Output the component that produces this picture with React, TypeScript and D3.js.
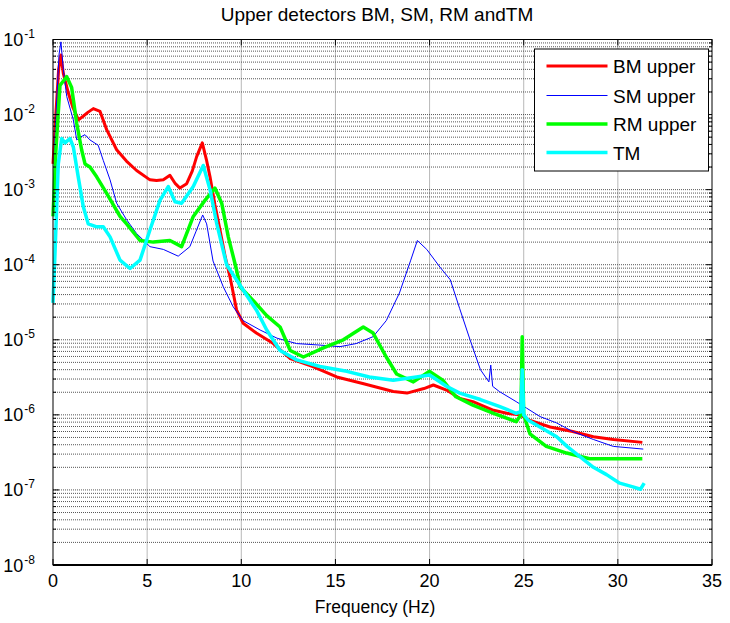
import React from "react";
import * as d3 from "d3";

const TITLE = "Upper detectors BM, SM, RM andTM";
const X_LABEL = "Frequency (Hz)";
const X_TICKS = [0, 5, 10, 15, 20, 25, 30, 35];
const Y_EXPONENTS = [-8, -7, -6, -5, -4, -3, -2, -1];
const SERIES_NAMES = ["BM upper", "SM upper", "RM upper", "TM"];

// [frequency Hz, PSD value]
const bmUpper: [number, number][] = [
  [0.0, 2.2e-3], [0.15, 1e-2], [0.3, 4e-2], [0.42, 6.2e-2], [0.55, 3.5e-2], [0.8, 2e-2],
  [1.05, 1.26e-2], [1.35, 8.5e-3], [1.6, 9.5e-3], [1.85, 1.07e-2], [2.14, 1.2e-2], [2.5, 1.1e-2],
  [2.85, 6.3e-3], [3.38, 3.4e-3], [3.9, 2.4e-3], [4.44, 1.8e-3], [5.15, 1.35e-3], [5.5, 1.32e-3],
  [5.86, 1.35e-3], [6.21, 1.55e-3], [6.5, 1.2e-3], [6.74, 1.05e-3], [7.1, 1.2e-3], [7.4, 1.78e-3],
  [7.63, 2.75e-3], [7.93, 4.2e-3], [8.15, 2.5e-3], [8.34, 1.48e-3], [8.6, 6.3e-4], [8.87, 2.9e-4],
  [9.15, 1.26e-4], [9.4, 6.9e-5], [9.75, 2.5e-5], [10.1, 1.66e-5], [10.8, 1.23e-5], [11.7, 8.9e-6],
  [12.6, 5.6e-6], [13.8, 4.4e-6], [15.07, 3.2e-6], [16.5, 2.6e-6], [18.07, 2.05e-6], [18.8, 1.95e-6],
  [19.7, 2.24e-6], [20.2, 2.5e-6], [20.9, 2.14e-6], [21.6, 1.66e-6], [22.3, 1.5e-6], [23.4, 1.15e-6],
  [24.1, 1.05e-6], [24.8, 1.0e-6], [25.3, 8.5e-7], [26.4, 6.9e-7], [27.6, 6.0e-7], [28.7, 5.1e-7],
  [29.76, 4.7e-7], [31.3, 4.3e-7],
];

const smUpper: [number, number][] = [
  [0.05, 2.5e-3], [0.2, 1.6e-2], [0.32, 6.3e-2], [0.42, 9.3e-2], [0.55, 4e-2], [0.73, 1.74e-2],
  [1.08, 8.5e-3], [1.26, 4.6e-3], [1.45, 5e-3], [1.7, 5.4e-3], [1.96, 4.6e-3], [2.4, 3.9e-3],
  [2.67, 2.45e-3], [3.03, 1.35e-3], [3.38, 6.6e-4], [3.9, 4e-4], [4.44, 2.6e-4], [5.15, 1.74e-4],
  [5.86, 1.6e-4], [6.65, 1.3e-4], [7.27, 1.74e-4], [7.6, 2.8e-4], [7.95, 4.6e-4], [8.16, 3.5e-4],
  [8.5, 1.12e-4], [9.04, 5.1e-5], [9.57, 2.75e-5], [10.1, 1.8e-5], [11.0, 1.35e-5], [11.9, 1.05e-5],
  [12.94, 8.9e-6], [14.18, 8.5e-6], [15.24, 8.1e-6], [16.1, 8.9e-6], [17.0, 1.1e-5], [17.7, 1.8e-5],
  [18.4, 4.2e-5], [19.0, 1.15e-4], [19.35, 2.1e-4], [19.85, 1.6e-4], [20.55, 9.3e-5], [21.1, 6.3e-5],
  [21.6, 2.6e-5], [22.15, 1e-5], [22.7, 4e-6], [23.15, 2.75e-6], [23.25, 4.6e-6], [23.35, 2.4e-6],
  [23.7, 2.05e-6], [24.6, 1.5e-6], [25.15, 1.23e-6], [25.86, 9.5e-7], [26.75, 7.8e-7], [27.6, 6e-7],
  [28.7, 4.7e-7], [29.76, 3.8e-7], [31.35, 3.5e-7],
];

const rmUpper: [number, number][] = [
  [0.0, 4.4e-4], [0.15, 3.2e-3], [0.37, 2.45e-2], [0.55, 2.8e-2], [0.73, 3.2e-2], [0.99, 2.3e-2],
  [1.26, 7.6e-3], [1.52, 3.4e-3], [1.7, 2.2e-3], [1.96, 2e-3], [2.32, 1.48e-3], [2.85, 8.9e-4],
  [3.56, 4.4e-4], [3.91, 3.5e-4], [4.62, 2.1e-4], [5.33, 2e-4], [6.21, 2.1e-4], [6.83, 1.74e-4],
  [7.45, 4.4e-4], [8.07, 7.2e-4], [8.6, 1.05e-3], [8.96, 6.6e-4], [9.31, 2.35e-4], [9.75, 8.5e-5],
  [9.93, 5.1e-5], [10.6, 3.4e-5], [11.35, 2.1e-5], [12.06, 1.48e-5], [12.6, 7.2e-6], [13.3, 5.9e-6],
  [14.36, 7.8e-6], [15.42, 1e-5], [16.48, 1.48e-5], [17.0, 1.23e-5], [17.7, 5.9e-6], [18.25, 3.5e-6],
  [19.14, 2.75e-6], [20.0, 3.8e-6], [20.7, 2.9e-6], [21.4, 1.74e-6], [22.3, 1.35e-6], [23.4, 1.05e-6],
  [24.6, 8.1e-7], [24.85, 1e-6], [24.92, 1.1e-5], [25.0, 1e-6], [25.33, 5.6e-7], [26.2, 3.8e-7],
  [27.28, 3.1e-7], [28.5, 2.6e-7], [29.76, 2.6e-7], [31.3, 2.6e-7],
];

const tm: [number, number][] = [
  [0.0, 3.1e-5], [0.1, 1.3e-4], [0.28, 2.2e-3], [0.46, 4.8e-3], [0.64, 4.2e-3], [0.9, 4.8e-3],
  [1.08, 3.7e-3], [1.34, 1.48e-3], [1.61, 5.9e-4], [1.87, 3.5e-4], [2.32, 3.2e-4], [2.67, 3.2e-4],
  [3.03, 2.35e-4], [3.56, 1.15e-4], [4.09, 8.9e-5], [4.62, 1.15e-4], [5.15, 2.9e-4], [5.68, 7.2e-4],
  [6.12, 1.1e-3], [6.48, 6.9e-4], [6.83, 6.6e-4], [7.45, 1.1e-3], [7.98, 2.1e-3], [8.34, 1e-3],
  [8.7, 3.5e-4], [9.22, 1e-4], [10.1, 4.6e-5], [10.8, 2.5e-5], [11.35, 1.35e-5], [12.06, 7.2e-6],
  [12.94, 5.4e-6], [14.18, 4.4e-6], [15.6, 3.8e-6], [16.8, 3.2e-6], [18.07, 2.9e-6], [19.3, 3.2e-6],
  [20.0, 3.4e-6], [20.9, 2.4e-6], [21.6, 1.95e-6], [22.7, 1.6e-6], [23.7, 1.3e-6], [24.6, 1.05e-6],
  [24.85, 1.1e-6], [24.92, 4e-6], [25.0, 1e-6], [25.24, 8.5e-7], [25.86, 6.9e-7], [26.75, 5.1e-7],
  [27.3, 3.8e-7], [28.0, 2.75e-7], [28.7, 2e-7], [29.4, 1.6e-7], [30.1, 1.23e-7], [30.8, 1.1e-7],
  [31.2, 1.02e-7], [31.4, 1.23e-7],
];

const SERIES_DATA = [bmUpper, smUpper, rmUpper, tm];
const COLORS = ["#ff0000", "#0000ff", "#00ff00", "#00ffff"];
const WIDTHS = [3, 1, 3.5, 3.5];

const W = 730, H = 623;
const L = 53, R = 712, T = 39.5, B = 565;
const FONT = "Arial, 'Liberation Sans', Helvetica, sans-serif";

export default function App() {
  const x = d3.scaleLinear().domain([0, 35]).range([L, R]);
  const y = d3.scaleLog().domain([1e-8, 1e-1]).range([B, T]);
  const line = d3.line<[number, number]>().x(d => x(d[0])).y(d => y(d[1]));

  const minorVals: number[] = [];
  for (let e = -8; e < -1; e++) {
    for (let m = 2; m <= 9; m++) minorVals.push(m * Math.pow(10, e));
  }
  const majorVals = Y_EXPONENTS.map(e => Math.pow(10, e));

  const legendX = 534.5, legendY = 49, legendW = 174, legendH = 122;
  const legendRows = [66, 95.5, 124, 152.5];

  return (
    <svg width={W} height={H} style={{ position: "absolute", left: 0, top: 0, background: "#fff" }} fontFamily={FONT}>
      <rect x={0} y={0} width={W} height={H} fill="#fff" />
      <rect x={L} y={T} width={R - L} height={B - T} fill="#fff" />
      {/* grid */}
      <g stroke="#444" strokeWidth={1} strokeDasharray="1,1">
        {X_TICKS.filter(t => t > 0 && t < 35).map(t => (
          <line key={"vx" + t} x1={x(t)} x2={x(t)} y1={T} y2={B} opacity={0.75} />
        ))}
        {[...majorVals, ...minorVals].filter(v => v > 1e-8 && v < 1e-1).map((v, i) => (
          <line key={"hy" + i} x1={L} x2={R} y1={y(v)} y2={y(v)} opacity={0.9} />
        ))}
      </g>
      {/* series */}
      {SERIES_DATA.map((d, i) => (
        <path key={"s" + i} d={line(d) || ""} fill="none" stroke={COLORS[i]} strokeWidth={WIDTHS[i]} strokeLinejoin="round" />
      ))}
      {/* axes frame */}
      <rect x={L} y={T} width={R - L} height={B - T} fill="none" stroke="#000" strokeWidth={1} />
      <line x1={L} x2={R} y1={B} y2={B} stroke="#000" strokeWidth={2} />
      {/* ticks */}
      <g stroke="#000" strokeWidth={1}>
        {X_TICKS.map(t => (
          <g key={"xt" + t}>
            <line x1={x(t)} x2={x(t)} y1={B} y2={B - 6} />
            <line x1={x(t)} x2={x(t)} y1={T} y2={T + 6} />
          </g>
        ))}
        {majorVals.map((v, i) => (
          <g key={"ym" + i}>
            <line x1={L} x2={L + 6} y1={y(v)} y2={y(v)} />
            <line x1={R} x2={R - 6} y1={y(v)} y2={y(v)} />
          </g>
        ))}
        {minorVals.map((v, i) => (
          <g key={"yn" + i}>
            <line x1={L} x2={L + 3} y1={y(v)} y2={y(v)} />
            <line x1={R} x2={R - 3} y1={y(v)} y2={y(v)} />
          </g>
        ))}
      </g>
      {/* tick labels */}
      {X_TICKS.map(t => (
        <text key={"xl" + t} x={x(t)} y={587} textAnchor="middle" fontSize={18} fill="#000">{t}</text>
      ))}
      {Y_EXPONENTS.map(e => (
        <text key={"yl" + e} x={35} y={y(Math.pow(10, e)) + 6.5} textAnchor="end" fontSize={18} fill="#000">
          10
          <tspan dx={1} dy={-8} fontSize={12}>{e}</tspan>
        </text>
      ))}
      {/* title and label */}
      <text x={377} y={21} textAnchor="middle" fontSize={19} fill="#000">{TITLE}</text>
      <text x={375} y={613} textAnchor="middle" fontSize={17.5} fill="#000">{X_LABEL}</text>
      {/* legend */}
      <rect x={legendX} y={legendY} width={legendW} height={legendH} fill="#fff" stroke="#000" strokeWidth={1} />
      {SERIES_NAMES.map((n, i) => (
        <g key={"lg" + i}>
          <line x1={546.5} x2={607.5} y1={legendRows[i]} y2={legendRows[i]} stroke={COLORS[i]} strokeWidth={WIDTHS[i]} />
          <text x={613} y={legendRows[i] + 7} fontSize={19} fill="#000">{n}</text>
        </g>
      ))}
    </svg>
  );
}
